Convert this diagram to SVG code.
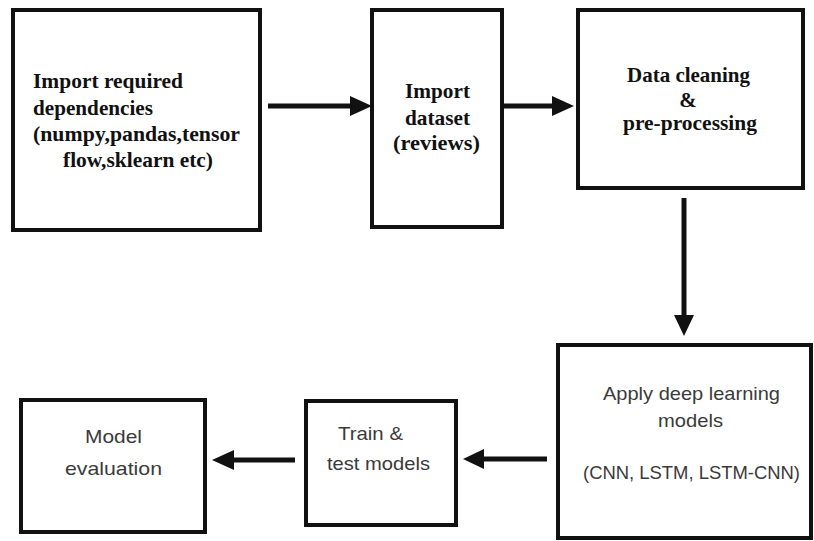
<svg xmlns="http://www.w3.org/2000/svg" width="814" height="541" viewBox="0 0 814 541">
  <defs>
    <style>
      .box { fill: #ffffff; stroke: #111111; stroke-width: 4; }
      .serif { font-family: "Liberation Serif", "Times New Roman", serif; font-weight: bold; font-size: 21px; fill: #111111; }
      .sans { font-family: "Liberation Sans", Arial, sans-serif; font-size: 19px; fill: #3a3a3a; }
      .link { stroke: #111111; stroke-width: 5; fill: none; }
      .head { fill: #111111; }
    </style>
  </defs>
  <rect width="814" height="541" fill="#ffffff"/>

  <!-- Step 1: dependencies -->
  <g id="node-dependencies">
    <rect class="box" x="13" y="10" width="247" height="220"/>
    <text class="serif" x="33" y="88" textLength="150" lengthAdjust="spacingAndGlyphs">Import required</text>
    <text class="serif" x="33" y="115" textLength="120" lengthAdjust="spacingAndGlyphs">dependencies</text>
    <text class="serif" x="33" y="141" textLength="207" lengthAdjust="spacingAndGlyphs">(numpy,pandas,tensor</text>
    <text class="serif" x="63" y="167" textLength="150" lengthAdjust="spacingAndGlyphs">flow,sklearn etc)</text>
  </g>

  <!-- Step 2: dataset -->
  <g id="node-dataset">
    <rect class="box" x="372" y="10" width="130" height="217"/>
    <text class="serif" x="405" y="98" textLength="65" lengthAdjust="spacingAndGlyphs">Import</text>
    <text class="serif" x="405" y="125" textLength="65" lengthAdjust="spacingAndGlyphs">dataset</text>
    <text class="serif" x="393" y="150" textLength="87" lengthAdjust="spacingAndGlyphs">(reviews)</text>
  </g>

  <!-- Step 3: cleaning -->
  <g id="node-cleaning">
    <rect class="box" x="578" y="10" width="225" height="178"/>
    <text class="serif" x="627" y="82" textLength="123" lengthAdjust="spacingAndGlyphs">Data cleaning</text>
    <text class="serif" x="688" y="107" text-anchor="middle">&amp;</text>
    <text class="serif" x="623" y="130" textLength="134" lengthAdjust="spacingAndGlyphs">pre-processing</text>
  </g>

  <!-- Step 4: deep learning models -->
  <g id="node-models">
    <rect class="box" x="558" y="345" width="253" height="193"/>
    <text class="sans" x="603" y="400" textLength="177" lengthAdjust="spacingAndGlyphs">Apply deep learning</text>
    <text class="sans" x="658" y="427" textLength="65" lengthAdjust="spacingAndGlyphs">models</text>
    <text class="sans" x="583" y="479" textLength="217" lengthAdjust="spacingAndGlyphs">(CNN, LSTM, LSTM-CNN)</text>
  </g>

  <!-- Step 5: train and test -->
  <g id="node-train">
    <rect class="box" x="306" y="401" width="150" height="124"/>
    <text class="sans" x="338" y="440" textLength="65" lengthAdjust="spacingAndGlyphs">Train &amp;</text>
    <text class="sans" x="327" y="470" textLength="103" lengthAdjust="spacingAndGlyphs">test models</text>
  </g>

  <!-- Step 6: evaluation -->
  <g id="node-evaluation">
    <rect class="box" x="21" y="400" width="184" height="132"/>
    <text class="sans" x="85" y="443" textLength="57" lengthAdjust="spacingAndGlyphs">Model</text>
    <text class="sans" x="65" y="475" textLength="97" lengthAdjust="spacingAndGlyphs">evaluation</text>
  </g>

  <!-- Flow arrows -->
  <g id="connectors">
    <line class="link" x1="268" y1="106" x2="352" y2="106"/>
    <polygon class="head" points="350,96 372,106 350,116"/>

    <line class="link" x1="502" y1="106" x2="554" y2="106"/>
    <polygon class="head" points="552,96 574,106 552,116"/>

    <line class="link" x1="684" y1="198" x2="684" y2="317"/>
    <polygon class="head" points="674,315 684,336 694,315"/>

    <line class="link" x1="547" y1="459" x2="482" y2="459"/>
    <polygon class="head" points="484,449 463,459 484,469"/>

    <line class="link" x1="295" y1="460" x2="232" y2="460"/>
    <polygon class="head" points="234,450 212,460 234,470"/>
  </g>
</svg>
